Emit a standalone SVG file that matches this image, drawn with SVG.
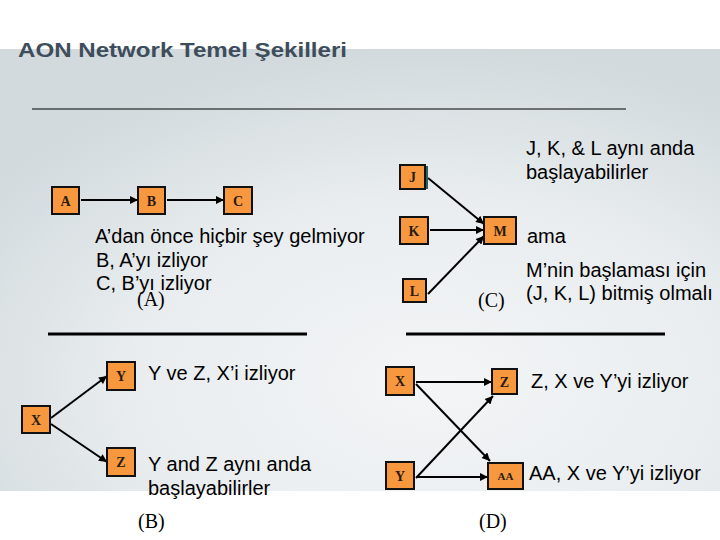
<svg xmlns="http://www.w3.org/2000/svg" width="720" height="540" viewBox="0 0 720 540">
  <defs>
    <radialGradient id="bg" cx="0.6" cy="0.75" r="0.75" fx="0.6" fy="0.75">
      <stop offset="0" stop-color="#f3f5f6"/>
      <stop offset="0.55" stop-color="#e9edef"/>
      <stop offset="1" stop-color="#d2dadd"/>
    </radialGradient>
    <marker id="ah" viewBox="0 0 10 10" refX="10" refY="5" markerWidth="9" markerHeight="8" markerUnits="userSpaceOnUse" orient="auto">
      <path d="M0,0 L10,5 L0,10 z" fill="#000"/>
    </marker>
    <style>
      .box { fill: #f7983f; stroke: #111; stroke-width: 2; }
      .lbl { font-family: "Liberation Serif", "Times New Roman", serif; font-weight: bold; font-size: 14px; fill: #2a1c10; text-anchor: middle; }
      .txt { font-family: "Liberation Sans", Arial, sans-serif; font-size: 20px; fill: #000; }
      .cap { font-family: "Liberation Serif", "Times New Roman", serif; font-size: 20px; fill: #000; }
      .title { font-family: "Liberation Sans", Arial, sans-serif; font-weight: bold; font-size: 20px; fill: #3e4d5b; }
      .edge { stroke: #000; stroke-width: 2; fill: none; marker-end: url(#ah); }
    </style>
  </defs>

  <rect x="0" y="0" width="720" height="540" fill="#fff"/>
  <rect x="0" y="49" width="720" height="442" fill="url(#bg)"/>

  <text class="title" x="18" y="57" textLength="329" lengthAdjust="spacingAndGlyphs">AON Network Temel Şekilleri</text>

  <line x1="32" y1="109" x2="626" y2="109" stroke="#000" stroke-width="1"/>
  <line x1="48" y1="334" x2="307" y2="334" stroke="#000" stroke-width="3"/>
  <line x1="406" y1="334" x2="665" y2="334" stroke="#000" stroke-width="3"/>

  <g id="connectors">
    <line class="edge" x1="81" y1="200" x2="138" y2="200"/>
    <line class="edge" x1="167" y1="200" x2="224" y2="200"/>

    <line class="edge" x1="428" y1="178" x2="484" y2="224"/>
    <line class="edge" x1="430" y1="230" x2="484" y2="230"/>
    <line class="edge" x1="428" y1="294" x2="484" y2="236"/>

    <line class="edge" x1="51" y1="418" x2="107" y2="376"/>
    <line class="edge" x1="51" y1="424" x2="107" y2="462"/>

    <line class="edge" x1="416" y1="382" x2="492" y2="382"/>
    <line class="edge" x1="416" y1="384" x2="490" y2="461"/>
    <line class="edge" x1="416" y1="478" x2="493" y2="396"/>
    <line class="edge" x1="416" y1="477" x2="488" y2="477"/>
  </g>

  <g id="A"><rect class="box" x="52" y="187" width="27" height="27"/><text class="lbl" x="65.5" y="205.5">A</text></g>
  <g id="B"><rect class="box" x="138" y="187" width="27" height="27"/><text class="lbl" x="151.5" y="205.5">B</text></g>
  <g id="C"><rect class="box" x="224" y="187" width="28" height="27"/><text class="lbl" x="238" y="205.5">C</text></g>

  <g id="J"><rect x="424" y="166" width="4" height="23" fill="#2f5f5c"/><rect class="box" x="400" y="165" width="25" height="24"/><text class="lbl" x="412.5" y="182">J</text></g>
  <g id="K"><rect class="box" x="400" y="217" width="28" height="27"/><text class="lbl" x="414" y="235.5">K</text></g>
  <g id="L"><rect class="box" x="403" y="279" width="23" height="23"/><text class="lbl" x="414.5" y="295.5">L</text></g>
  <g id="M"><rect class="box" x="484" y="217" width="32" height="27"/><text class="lbl" x="500" y="235.5">M</text></g>

  <g id="X1"><rect class="box" x="22" y="406" width="28" height="27"/><text class="lbl" x="36" y="424.5">X</text></g>
  <g id="Y1"><rect class="box" x="107" y="362" width="28" height="28"/><text class="lbl" x="121" y="381">Y</text></g>
  <g id="Z1"><rect class="box" x="107" y="448" width="28" height="28"/><text class="lbl" x="121" y="467">Z</text></g>

  <g id="X2"><rect class="box" x="386" y="367" width="28" height="28"/><text class="lbl" x="400" y="386">X</text></g>
  <g id="Z2"><rect class="box" x="492" y="369" width="25" height="25"/><text class="lbl" x="504.5" y="386.5">Z</text></g>
  <g id="Y2"><rect class="box" x="386" y="462" width="28" height="27"/><text class="lbl" x="400" y="480.5">Y</text></g>
  <g id="AA"><rect class="box" x="488" y="463" width="35" height="26"/><text class="lbl" x="505.5" y="480" style="font-size:11px">AA</text></g>

  <g id="texts">
    <text class="txt" x="95" y="243">A’dan önce hiçbir şey gelmiyor</text>
    <text class="txt" x="96" y="267">B, A’yı izliyor</text>
    <text class="txt" x="96" y="290">C, B’yı izliyor</text>
    <text class="cap" x="137" y="306">(A)</text>

    <text class="txt" x="526" y="155">J, K, &amp; L aynı anda</text>
    <text class="txt" x="526" y="179">başlayabilirler</text>
    <text class="txt" x="527" y="243">ama</text>
    <text class="txt" x="526" y="277">M’nin başlaması için</text>
    <text class="txt" x="526" y="300">(J, K, L) bitmiş olmalı</text>
    <text class="cap" x="478" y="307">(C)</text>

    <text class="txt" x="148" y="380">Y ve Z, X’i izliyor</text>
    <text class="txt" x="148" y="471">Y and Z aynı anda</text>
    <text class="txt" x="148" y="495">başlayabilirler</text>
    <text class="cap" x="138" y="528">(B)</text>

    <text class="txt" x="531" y="388">Z, X ve Y’yi izliyor</text>
    <text class="txt" x="529" y="480">AA, X ve Y’yi izliyor</text>
    <text class="cap" x="479" y="528">(D)</text>
  </g>
</svg>
